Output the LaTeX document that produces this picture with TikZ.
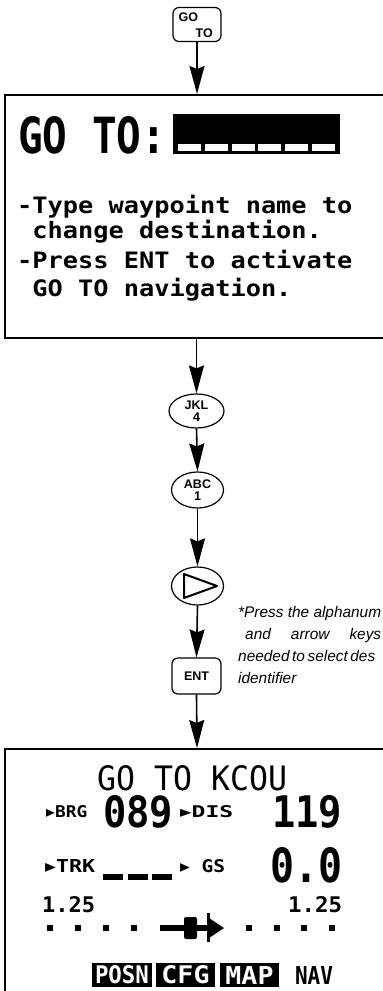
\documentclass[tikz,border=0pt]{standalone}
\usepackage{fontspec}
\usepackage{graphicx}
\setmainfont{Liberation Sans}
\newfontfamily\lcd{DejaVu Sans Mono}
\newfontfamily\djs{DejaVu Sans}
\usetikzlibrary{arrows.meta,shapes.geometric}
\newcommand{\fitto}[3]{\resizebox{#1pt}{#2pt}{#3}}
\newcommand{\wide}[1]{\scalebox{1.12}[1]{#1}}
\begin{document}
\begin{tikzpicture}[x=1pt,y=-1pt,
  frame/.style={draw, line width=2pt, inner sep=0pt, minimum width=385pt},
  keyr/.style={draw, rounded corners=6pt, line width=1.2pt, inner sep=0pt},
  keye/.style={draw, ellipse, line width=1.2pt, inner sep=0pt},
  keytxt/.style={font=\fontsize{12.5}{12.5}\selectfont\bfseries, inner sep=0pt},
  arr/.style={line width=1.6pt, -{Stealth[length=28pt,width=15pt,inset=3pt]}},
  lcdtxt/.style={inner sep=0pt, anchor=base west, font=\fontsize{22.6}{22.6}\lcd\bfseries},
  fit/.style={inner sep=0pt, anchor=north west},
  note/.style={inner sep=0pt, anchor=base west, font=\fontsize{15.4}{15.4}\selectfont\itshape},
  tab/.style={fill=black, inner sep=0pt}]
\clip (0,0) rectangle (383,991);
\fill[white] (0,0) rectangle (383,991);
% GO TO key
\node[keyr, minimum width=48pt, minimum height=34pt] (k1) at (197,24.5) {};
\node[keytxt, anchor=base west] (k1a) at (178.5,21.5) {GO};
\node[keytxt, anchor=base west] (k1b) at (195.5,37.5) {TO};
% top screen
\node[frame, minimum height=243pt] (s1) at (197,216.5) {};
\node[fit] (gotol) at (18,116) {\fitto{148}{37}{\lcd\bfseries GO TO:}};
\node[fill=black, minimum width=167pt, minimum height=40pt, inner sep=0pt, anchor=north west] (bar) at (173,114) {};
\foreach \x in {178,204.8,231.6,258.4,285.2,312}
  \fill[white] (\x,144) rectangle ++(23,6.5);
\node[lcdtxt] (t1) at (17,213) {\wide{-Type waypoint name to}};
\node[lcdtxt] (t2) at (17,238) {\wide{\ change destination.}};
\node[lcdtxt] (t3) at (17,268) {\wide{-Press ENT to activate}};
\node[lcdtxt] (t4) at (17,296) {\wide{\ GO TO navigation.}};
% keys
\node[keye, minimum width=55pt, minimum height=34pt] (k2) at (196.5,411) {};
\node[keytxt, align=center, font=\fontsize{12.5}{12.5}\selectfont\bfseries] (k2t) at (k2) {JKL\\4};
\node[keye, minimum width=52pt, minimum height=36pt] (k3) at (197.5,490) {};
\node[keytxt, align=center, font=\fontsize{12.5}{12.5}\selectfont\bfseries] (k3t) at (k3) {ABC\\1};
\node[keye, minimum width=52pt, minimum height=38pt] (k4) at (197.5,586) {};
\draw[line width=2pt, line join=round] (184,574) -- (217,586) -- (184,598) -- cycle;
\node[keyr, minimum width=49pt, minimum height=36pt] (k5) at (196.5,676) {};
\node[keytxt] (k5t) at (k5) {ENT};
% arrows
\draw[arr] (k1.south) -- (s1.north);
\draw[arr] (s1.south -| k2.north) -- (k2.north);
\draw[arr] (k2.south) -- (k3.north);
\draw[arr] (k3.south) -- (k4.north);
\draw[arr] (k4.south) -- (k5.north);
% note
\node[note] (n1) at (238,617) {*Press the alphanum};
\node[note] (n2) at (245,639) {\makebox[136pt][s]{and arrow keys}};
\node[note] (n3) at (238,661) {\spaceskip=2.6pt needed to select des};
\node[note] (n4) at (238,683) {identifier};
% bottom screen
\node[frame, minimum height=261pt] (s2) at (197,879.5) {};
\draw[arr] (k5.south) -- (s2.north);
\node[fit] (h1) at (97,765) {\fitto{190}{25}{\lcd GO TO KCOU}};
\node[fit] (brg) at (46,805) {\fitto{41}{12}{\lcd\bfseries{\djs ▸}BRG}};
\node[fit] (v1) at (103,795) {\fitto{70}{32}{\lcd\bfseries 089}};
\node[fit] (dis) at (180,805) {\fitto{53}{12}{\lcd\bfseries{\djs ▸}DIS}};
\node[fit] (v2) at (272,795) {\fitto{70}{32}{\lcd\bfseries 119}};
\node[fit] (trk) at (45,859) {\fitto{50}{13}{\lcd\bfseries{\djs ▸}TRK}};
\foreach \x in {103,128,152}
  \fill (\x,874) rectangle ++(20,6);
\node[fit] (gs) at (180,859) {\fitto{45}{13}{\lcd\bfseries{\djs ▸} GS}};
\node[fit] (v3) at (270,847) {\fitto{72}{35}{\lcd\bfseries 0.0}};
\node[fit] (r1) at (42,896) {\fitto{53}{16}{\lcd\bfseries 1.25}};
\node[fit] (r2) at (288,896) {\fitto{54}{16}{\lcd\bfseries 1.25}};
\foreach \x in {50,78,106,134,249,277,304,332}
  \fill (\x-3,925) rectangle ++(6,6);
\fill (160,925) rectangle (207,931);
\fill[rounded corners=2pt] (184,917) rectangle (197,939);
\fill (206.5,913) rectangle (209.5,942);
\fill (209,918) -- (224,928) -- (209,938) -- cycle;
% soft keys
\node[tab, minimum width=60pt, minimum height=24pt] (p1) at (122,975) {\fitto{54}{18}{\color{white}\lcd\bfseries POSN}};
\node[tab, minimum width=59pt, minimum height=24pt] (p2) at (185.5,975) {\fitto{48}{18}{\color{white}\lcd\bfseries CFG}};
\node[tab, minimum width=59pt, minimum height=24pt] (p3) at (249.5,975) {\fitto{48}{18}{\color{white}\lcd\bfseries MAP}};
\node[inner sep=0pt] (p4) at (314,975.5) {\fitto{38}{18}{\lcd\bfseries NAV}};
\end{tikzpicture}
\end{document}
